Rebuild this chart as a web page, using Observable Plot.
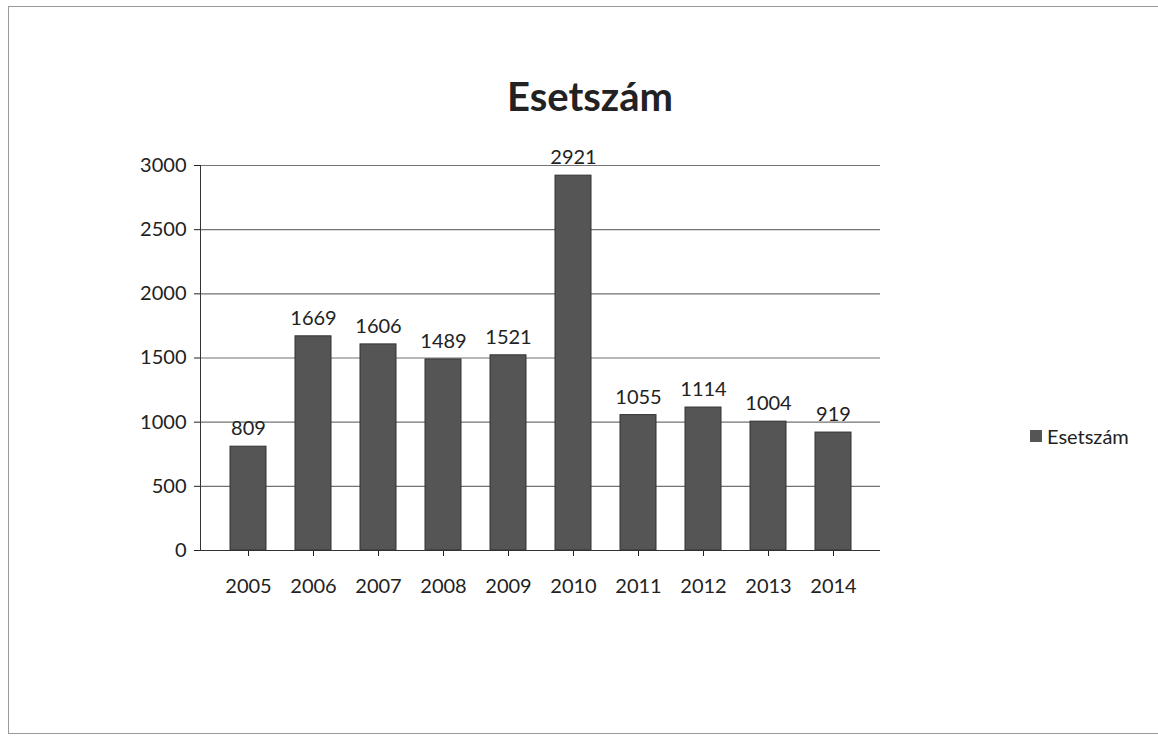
<!DOCTYPE html>
<html>
<head>
<meta charset="utf-8">
<script src="https://cdn.jsdelivr.net/npm/d3@7"></script>
<script src="https://cdn.jsdelivr.net/npm/@observablehq/plot@0.6"></script>
<style>
  html, body { margin: 0; padding: 0; background: #fff; }
  #wrap { position: relative; width: 1158px; height: 739px; overflow: hidden; font-family: Lato, "Open Sans", sans-serif; }
  #frame { position: absolute; left: 8px; top: 6px; width: 1160px; height: 728px; border: 1px solid #9a9a9a; box-sizing: border-box; }
  #title { position: absolute; top: 72px; left: 0; width: 1180px; text-align: center; font-size: 40px; font-weight: bold; color: #222; }
  #chart { position: absolute; left: 0; top: 130px; }
  #legend { position: absolute; left: 1030px; top: 424px; font-size: 20px; color: #222; display: flex; align-items: center; gap: 5px; }
  #legend .sw { width: 12px; height: 12px; background: #555; }
</style>
</head>
<body>
<div id="wrap">
  <div id="frame"></div>
  <div id="title">Esetszám</div>
  <div id="chart"></div>
  <div id="legend"><span class="sw"></span><span>Esetszám</span></div>
</div>
<script>
const years = ["2005","2006","2007","2008","2009","2010","2011","2012","2013","2014"];
const values = [809, 1669, 1606, 1489, 1521, 2921, 1055, 1114, 1004, 919];
const yTicks = [0, 500, 1000, 1500, 2000, 2500, 3000];
const seriesName = "Esetszám";

const data = years.map((y, i) => ({year: y, value: values[i]}));

const chart = Plot.plot({
  width: 960,
  height: 520,
  marginLeft: 200,
  marginRight: 80,
  marginTop: 35,
  marginBottom: 100,
  style: {fontFamily: "Lato, 'Open Sans', sans-serif", fontSize: "20px", color: "#222", background: "transparent"},
  x: {domain: years, padding: 0.45, label: null},
  y: {domain: [0, 3000], ticks: yTicks, label: null},
  marks: [
    Plot.gridY(yTicks, {stroke: "#444", strokeOpacity: 0.75, strokeWidth: 1.2}),
    Plot.axisY(yTicks, {tickSize: 6, tickPadding: 8, fontSize: 20, label: null, tickFormat: d3.format("d")}),
    Plot.axisX({tickSize: 6, tickPadding: 22, fontSize: 20, label: null}),
    Plot.frame({anchor: "left", stroke: "#333"}),
    Plot.barY(data, {x: "year", y: "value", fill: "#555", stroke: "#333", strokeWidth: 1}),
    Plot.text(data, {x: "year", y: "value", text: d => String(d.value), dy: -18, fontSize: 20, fill: "#222"}),
    Plot.ruleY([0], {stroke: "#333", strokeWidth: 1.2})
  ]
});
document.getElementById("chart").appendChild(chart);
</script>
</body>
</html>
